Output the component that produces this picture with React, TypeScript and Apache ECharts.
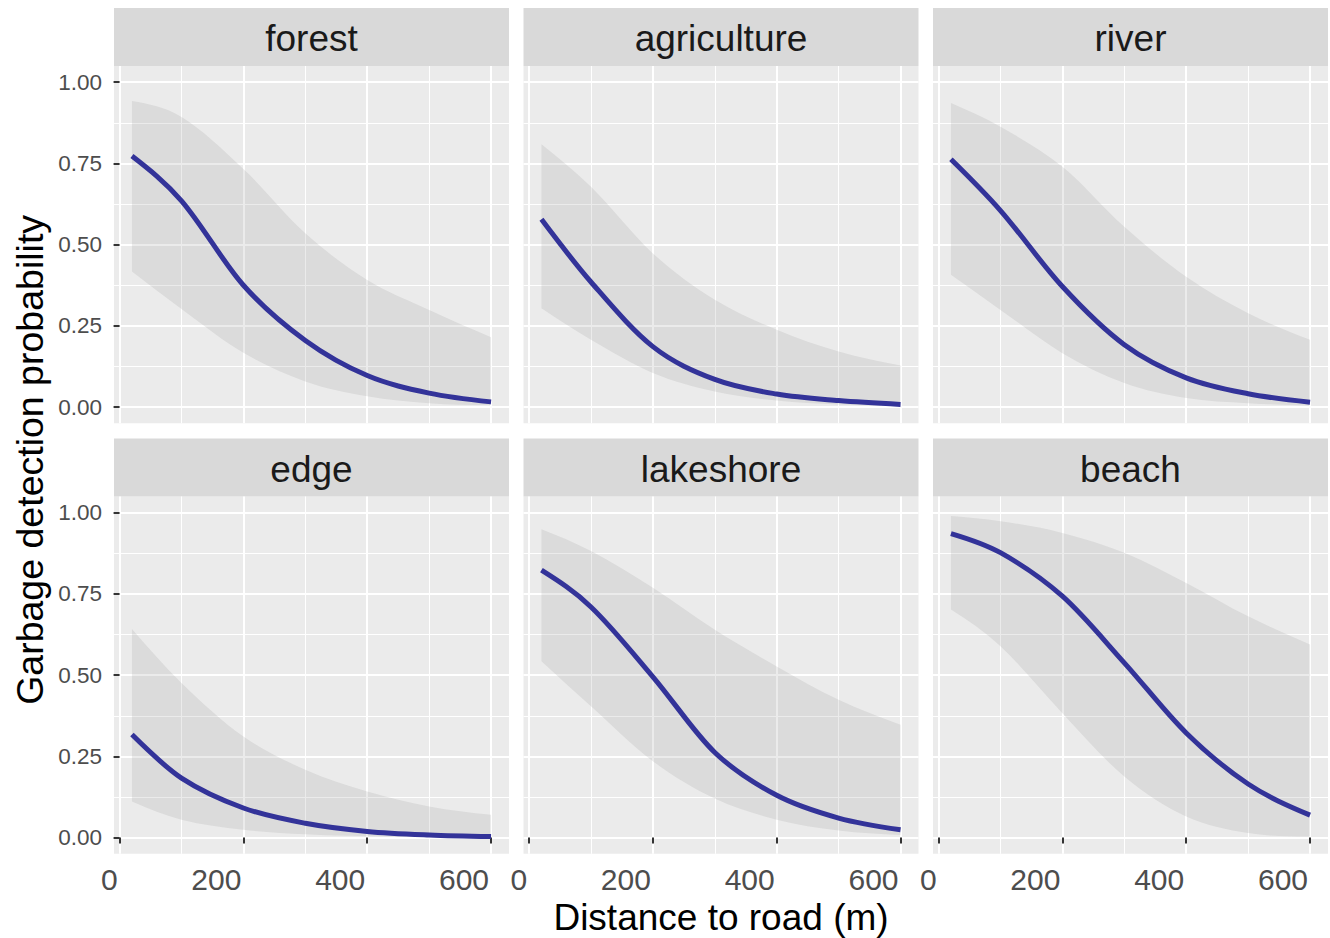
import React, { useEffect, useRef } from "react";
import * as echarts from "echarts";

// ---------- data ----------
const distance = [20, 100, 200, 300, 400, 500, 600];
const panelNames = ["forest", "agriculture", "river", "edge", "lakeshore", "beach"];

const forestFit = [0.773, 0.635, 0.375, 0.205, 0.097, 0.043, 0.016];
const forestLower = [0.417, 0.302, 0.167, 0.079, 0.033, 0.012, 0.006];
const forestUpper = [0.942, 0.893, 0.733, 0.535, 0.391, 0.299, 0.215];

const agricultureFit = [0.578, 0.385, 0.186, 0.085, 0.04, 0.02, 0.008];
const agricultureLower = [0.304, 0.207, 0.105, 0.048, 0.02, 0.008, 0.003];
const agricultureUpper = [0.809, 0.678, 0.473, 0.33, 0.238, 0.171, 0.128];

const riverFit = [0.763, 0.605, 0.371, 0.192, 0.09, 0.041, 0.015];
const riverLower = [0.407, 0.299, 0.166, 0.074, 0.028, 0.012, 0.005];
const riverUpper = [0.936, 0.863, 0.74, 0.555, 0.401, 0.289, 0.207];

const edgeFit = [0.317, 0.183, 0.091, 0.044, 0.019, 0.008, 0.003];
const edgeLower = [0.111, 0.055, 0.024, 0.01, 0.004, 0.002, 0.001];
const edgeUpper = [0.642, 0.476, 0.311, 0.209, 0.142, 0.096, 0.07];

const lakeshoreFit = [0.823, 0.71, 0.495, 0.262, 0.13, 0.06, 0.024];
const lakeshoreLower = [0.543, 0.404, 0.235, 0.12, 0.055, 0.022, 0.008];
const lakeshoreUpper = [0.949, 0.882, 0.769, 0.64, 0.527, 0.424, 0.347];

const beachFit = [0.936, 0.877, 0.743, 0.538, 0.322, 0.165, 0.069];
const beachLower = [0.702, 0.589, 0.383, 0.188, 0.065, 0.014, 0.003];
const beachUpper = [0.99, 0.974, 0.938, 0.877, 0.784, 0.681, 0.594];

const fits = [forestFit, agricultureFit, riverFit, edgeFit, lakeshoreFit, beachFit];
const lowers = [forestLower, agricultureLower, riverLower, edgeLower, lakeshoreLower, beachLower];
const uppers = [forestUpper, agricultureUpper, riverUpper, edgeUpper, lakeshoreUpper, beachUpper];

const yTicks = [0, 0.25, 0.5, 0.75, 1];
const yMinorTicks = [0.125, 0.375, 0.625, 0.875];
const xTicks = [0, 200, 400, 600];
const xMinorTicks = [100, 300, 500];

const xTitle = "Distance to road (m)";
const yTitle = "Garbage detection probability";

// ---------- layout ----------
const FONT = "'Liberation Sans', Arial, Helvetica, sans-serif";
const COLS = [114, 523.5, 933];
const ROWS = [66, 496.5];
const PW = 395;
const PH = 357.3;
const STRIP_H = 58;
const X_MIN = -9;
const X_MAX = 629;
const Y_MIN = -0.05;
const Y_MAX = 1.05;

// Hermite spline through pixel points (x-parameterised)
function tangents(pts: number[][]) {
  const n = pts.length;
  const s: number[] = [];
  for (let k = 0; k < n - 1; k++) s.push((pts[k + 1][1] - pts[k][1]) / (pts[k + 1][0] - pts[k][0]));
  const m: number[] = [];
  for (let k = 0; k < n; k++) {
    if (k === 0 || k === n - 1) m.push(0);
    else m.push((pts[k + 1][1] - pts[k - 1][1]) / (pts[k + 1][0] - pts[k - 1][0]));
  }
  let m0 = (3 * s[0] - m[1]) / 2;
  if (m0 * s[0] < 0) m0 = 0;
  m[0] = m0;
  let mn = (3 * s[n - 2] - m[n - 2]) / 2;
  if (mn * s[n - 2] < 0) mn = 0;
  m[n - 1] = mn;
  return m;
}

function splineSegs(pts: number[][], m: number[], reverse: boolean) {
  const idx = pts.map((_, k) => k);
  if (reverse) idx.reverse();
  let d = "";
  for (let j = 0; j < idx.length - 1; j++) {
    const a = idx[j];
    const b = idx[j + 1];
    const h = pts[b][0] - pts[a][0];
    const c1x = pts[a][0] + h / 3;
    const c1y = pts[a][1] + (m[a] * h) / 3;
    const c2x = pts[b][0] - h / 3;
    const c2y = pts[b][1] - (m[b] * h) / 3;
    d += ` C ${c1x} ${c1y} ${c2x} ${c2y} ${pts[b][0]} ${pts[b][1]}`;
  }
  return d;
}

function buildOption() {
  const grid: any[] = [];
  const xAxis: any[] = [];
  const yAxis: any[] = [];
  const series: any[] = [];
  const graphic: any[] = [];

  panelNames.forEach((name, i) => {
    const r = Math.floor(i / 3);
    const c = i % 3;
    grid.push({
      left: COLS[c],
      top: ROWS[r],
      width: PW,
      height: PH,
      show: true,
      backgroundColor: "#EBEBEB",
      borderWidth: 0,
      containLabel: false,
      outerBoundsMode: "none",
    });
    graphic.push({
      type: "rect",
      shape: { x: COLS[c], y: ROWS[r] - STRIP_H, width: PW, height: STRIP_H },
      style: { fill: "#D9D9D9" },
      silent: true,
    });
    graphic.push({
      type: "text",
      x: COLS[c] + PW / 2,
      y: ROWS[r] - STRIP_H / 2 + 1.5,
      style: {
        text: name,
        fill: "#1A1A1A",
        font: `37px ${FONT}`,
        textAlign: "center",
        textVerticalAlign: "middle",
      },
      silent: true,
    });
  });

  // major axes 0..5
  panelNames.forEach((_, i) => {
    const r = Math.floor(i / 3);
    const c = i % 3;
    xAxis.push({
      type: "value",
      gridIndex: i,
      min: X_MIN,
      max: X_MAX,
      position: "bottom",
      axisLine: { show: false },
      axisTick: {
        show: r === 1,
        customValues: xTicks,
        length: 6,
        lineStyle: { color: "#333333", width: 2 },
      },
      axisLabel: {
        show: r === 1,
        customValues: xTicks,
        fontSize: 30,
        fontFamily: FONT,
        color: "#4D4D4D",
        margin: 11,
        align: "right",
        padding: [0, 2, 0, 0],
      },
      splitLine: { show: true, lineStyle: { color: "#FFFFFF", width: 2 } },
    });
    yAxis.push({
      type: "value",
      gridIndex: i,
      min: Y_MIN,
      max: Y_MAX,
      position: "left",
      axisLine: { show: false },
      axisTick: {
        show: c === 0,
        customValues: yTicks,
        length: 6,
        lineStyle: { color: "#333333", width: 2 },
      },
      axisLabel: {
        show: c === 0,
        customValues: yTicks,
        fontSize: 22.5,
        fontFamily: FONT,
        color: "#4D4D4D",
        margin: 12,
        formatter: (v: number) => v.toFixed(2),
      },
      splitLine: { show: true, lineStyle: { color: "#FFFFFF", width: 2 } },
    });
  });
  // minor axes 6..11
  panelNames.forEach((_, i) => {
    xAxis.push({
      type: "value",
      gridIndex: i,
      min: X_MIN,
      max: X_MAX,
      position: "bottom",
      axisLine: { show: false },
      axisTick: { show: false, customValues: xMinorTicks },
      axisLabel: { show: false, customValues: xMinorTicks },
      splitLine: { show: true, lineStyle: { color: "#FFFFFF", width: 1 } },
    });
    yAxis.push({
      type: "value",
      gridIndex: i,
      min: Y_MIN,
      max: Y_MAX,
      position: "left",
      axisLine: { show: false },
      axisTick: { show: false, customValues: yMinorTicks },
      axisLabel: { show: false, customValues: yMinorTicks },
      splitLine: { show: true, lineStyle: { color: "#FFFFFF", width: 1 } },
    });
  });

  panelNames.forEach((name, i) => {
    const lower = lowers[i];
    const upper = uppers[i];
    const fit = fits[i];
    series.push({
      name: name + "-band",
      type: "custom",
      xAxisIndex: i,
      yAxisIndex: i,
      silent: true,
      clip: true,
      z: 2,
      data: distance.map((d, k) => [d, lower[k], upper[k]]),
      encode: { x: 0, y: [1, 2] },
      renderItem: (params: any, api: any) => {
        if (params.dataIndex !== 0) return null;
        const up = distance.map((d, k) => api.coord([d, upper[k]]));
        const lo = distance.map((d, k) => api.coord([d, lower[k]]));
        const mu = tangents(up);
        const ml = tangents(lo);
        const last = lo[lo.length - 1];
        const d =
          `M ${up[0][0]} ${up[0][1]}` +
          splineSegs(up, mu, false) +
          ` L ${last[0]} ${last[1]}` +
          splineSegs(lo, ml, true) +
          " Z";
        return {
          type: "path",
          shape: { pathData: d },
          style: { fill: "rgba(153,153,153,0.2)", stroke: null },
        };
      },
    });
    series.push({
      name: name,
      type: "custom",
      xAxisIndex: i,
      yAxisIndex: i,
      silent: true,
      clip: true,
      z: 3,
      data: distance.map((d, k) => [d, fit[k]]),
      encode: { x: 0, y: 1 },
      renderItem: (params: any, api: any) => {
        if (params.dataIndex !== 0) return null;
        const pts = distance.map((d, k) => api.coord([d, fit[k]]));
        const m = tangents(pts);
        const d = `M ${pts[0][0]} ${pts[0][1]}` + splineSegs(pts, m, false);
        return {
          type: "path",
          shape: { pathData: d },
          style: { fill: null, stroke: "#333399", lineWidth: 5, lineCap: "butt", lineJoin: "round" },
        };
      },
    });
  });

  graphic.push({
    type: "text",
    x: (COLS[0] + COLS[2] + PW) / 2,
    y: 917,
    style: {
      text: xTitle,
      fill: "#000000",
      font: `37px ${FONT}`,
      textAlign: "center",
      textVerticalAlign: "middle",
    },
    silent: true,
  });
  graphic.push({
    type: "text",
    x: 30,
    y: (ROWS[0] + ROWS[1] + PH) / 2,
    rotation: Math.PI / 2,
    style: {
      text: yTitle,
      fill: "#000000",
      font: `37.5px ${FONT}`,
      textAlign: "center",
      textVerticalAlign: "middle",
    },
    silent: true,
  });

  return {
    animation: false,
    backgroundColor: "#FFFFFF",
    textStyle: { fontFamily: FONT },
    grid,
    xAxis,
    yAxis,
    series,
    graphic,
  };
}

export default function App() {
  const ref = useRef<HTMLDivElement>(null);
  useEffect(() => {
    if (!ref.current) return;
    const chart = echarts.init(ref.current, undefined, { renderer: "svg" });
    chart.setOption(buildOption() as any);
    return () => chart.dispose();
  }, []);
  return (
    <div
      ref={ref}
      style={{ position: "absolute", left: 0, top: 0, width: 1330, height: 938 }}
    />
  );
}
